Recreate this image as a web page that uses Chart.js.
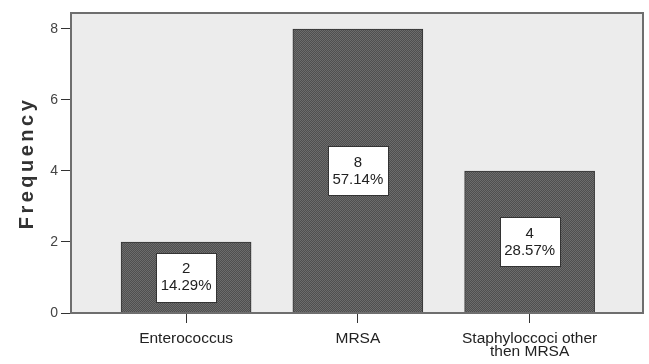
<!DOCTYPE html>
<html>
<head>
<meta charset="utf-8">
<script src="https://cdn.jsdelivr.net/npm/chart.js@4"></script>
<style>
  html, body { margin: 0; padding: 0; background: #fff; }
  #wrap { width: 649px; height: 364px; }
</style>
</head>
<body>
<div id="wrap"><canvas id="chart" width="649" height="364"></canvas></div>
<script>
// data
const categories = ['Enterococcus', 'MRSA', ['Staphyloccoci other', 'then MRSA']];
const frequency = [2, 8, 4];
const percents = ['14.29%', '57.14%', '28.57%'];
const yTicks = [0, 2, 4, 6, 8];

// dotted fill like the SPSS bars
function makePattern() {
    const c = document.createElement('canvas');
    c.width = 2; c.height = 2;
    const g = c.getContext('2d');
    g.fillStyle = '#4f4f4f';
    g.fillRect(0, 0, 2, 2);
    g.fillStyle = '#6c6c6c';
    g.fillRect(0, 0, 1, 1);
    g.fillRect(1, 1, 1, 1);
    return g.createPattern(c, 'repeat');
}

const framePlugin = {
    id: 'frame',
    beforeDraw(chart) {
        const { ctx, chartArea: a } = chart;
        ctx.save();
        ctx.fillStyle = '#ececec';
        ctx.fillRect(a.left, a.top, a.right - a.left, a.bottom - a.top);
        ctx.restore();
    },
    afterDraw(chart) {
        const { ctx, chartArea: a } = chart;
        ctx.save();
        ctx.strokeStyle = '#6e6e6e';
        ctx.lineWidth = 2;
        ctx.strokeRect(a.left, a.top, a.right - a.left, a.bottom - a.top);

        // axis title, spaced out like the original
        ctx.translate(27, (a.top + a.bottom) / 2);
        ctx.rotate(-Math.PI / 2);
        ctx.letterSpacing = '3.5px';
        ctx.font = 'bold 20px "Liberation Sans", Arial, sans-serif';
        ctx.fillStyle = '#333';
        ctx.textAlign = 'center';
        ctx.textBaseline = 'middle';
        ctx.fillText('Frequency', 0, 0);
        ctx.restore();
    }
};

// white boxes with count and percent in the middle of each bar
const boxPlugin = {
    id: 'boxes',
    afterDatasetsDraw(chart) {
        const { ctx } = chart;
        const meta = chart.getDatasetMeta(0);
        ctx.save();
        meta.data.forEach((bar, i) => {
            const cy = (bar.y + bar.base) / 2;
            const w = 60, h = 49;
            const x0 = Math.round(bar.x - w / 2) + 0.5;
            const y0 = Math.round(cy - h / 2) + 0.5;
            ctx.fillStyle = '#fff';
            ctx.fillRect(x0, y0, w, h);
            ctx.strokeStyle = '#333';
            ctx.lineWidth = 1;
            ctx.strokeRect(x0, y0, w, h);
            ctx.fillStyle = '#222';
            ctx.font = '15px "Liberation Sans", Arial, sans-serif';
            ctx.textAlign = 'center';
            ctx.textBaseline = 'middle';
            ctx.fillText(String(frequency[i]), bar.x, cy - 8);
            ctx.fillText(percents[i], bar.x, cy + 9);
        });
        ctx.restore();
    }
};

new Chart(document.getElementById('chart'), {
    type: 'bar',
    data: {
        datasets: [{
            data: frequency.map((v, i) => ({ x: i, y: v })),
            backgroundColor: makePattern(),
            borderColor: '#333',
            borderWidth: 1,
            barThickness: 130
        }]
    },
    options: {
        responsive: false,
        animation: false,
        layout: { padding: { top: 13, right: 6, left: 0, bottom: 0 } },
        plugins: { legend: { display: false }, tooltip: { enabled: false } },
        scales: {
            x: {
                type: 'linear',
                min: -0.67,
                max: 2.66,
                offset: false,
                afterFit(s) { s.height = 51; },
                afterBuildTicks(s) { s.ticks = categories.map((c, i) => ({ value: i })); },
                grid: { offset: false, drawOnChartArea: false, drawTicks: true, tickLength: 10, color: '#333' },
                border: { display: true, color: '#333', width: 1 },
                ticks: {
                    padding: 9,
                    color: '#222',
                    font: { family: '"Liberation Sans", Arial, sans-serif', size: 15.5, lineHeight: 0.85 },
                    callback: (v) => categories[v]
                }
            },
            y: {
                min: 0,
                max: 8.45,
                afterFit(s) { s.width = 71; },
                afterBuildTicks(s) { s.ticks = yTicks.map(v => ({ value: v })); },
                grid: { drawOnChartArea: false, drawTicks: true, tickLength: 10, color: '#333' },
                border: { display: true, color: '#333', width: 1 },
                ticks: {
                    padding: 3,
                    color: '#444',
                    font: { family: '"Liberation Sans", Arial, sans-serif', size: 14 }
                }
            }
        }
    },
    plugins: [framePlugin, boxPlugin]
});
</script>
</body>
</html>
